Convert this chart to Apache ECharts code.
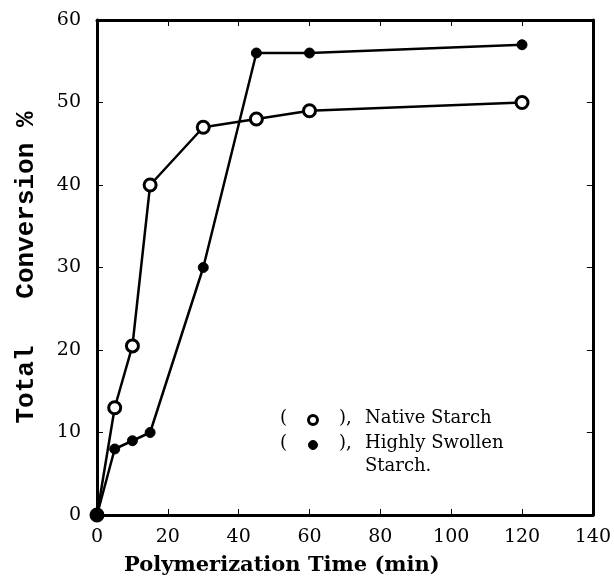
<!DOCTYPE html>
<html>
<head>
<meta charset="utf-8">
<script src="https://cdn.jsdelivr.net/npm/echarts@6/dist/echarts.min.js"></script>
<style>
  html, body { margin: 0; padding: 0; background: #fff; }
  #main { width: 614px; height: 581px; }
</style>
</head>
<body>
<div id="main"></div>
<script>
// values
const timeNative = [0, 5, 10, 15, 30, 45, 60, 120];
const native = [0, 13, 20.5, 40, 47, 48, 49, 50];
const timeSwollen = [0, 5, 10, 15, 30, 45, 60, 120];
const swollen = [0, 8, 9, 10, 30, 56, 56, 57];

window.addEventListener('load', function () {
    let chart = echarts.init(document.getElementById('main'));
    let serif = 'DejaVu Serif';
    let mono = 'Liberation Mono';

    let frameAxis = {
        axisLine: { show: true, onZero: false, lineStyle: { color: '#000', width: 3 } },
        axisTick: { show: true, inside: true, length: 6, lineStyle: { color: '#000', width: 1 } },
        splitLine: { show: false }
    };

    let option = {
        backgroundColor: '#fff',
        animation: false,
        grid: { left: 97, right: 18, top: 20, bottom: 64 },
        xAxis: [
            Object.assign({
                type: 'value', min: 0, max: 140, interval: 20, position: 'bottom',
                axisLabel: { margin: 13, color: '#000', fontFamily: serif, fontSize: 19 },
                name: 'Polymerization Time (min)',
                nameLocation: 'middle', nameGap: 40,
                nameTextStyle: { color: '#000', fontFamily: serif, fontWeight: 'bold', fontSize: 21, padding: [0, 126, 0, 0] }
            }, frameAxis),
            Object.assign({
                type: 'value', min: 0, max: 140, interval: 20, position: 'top',
                axisLabel: { show: false }
            }, frameAxis)
        ],
        yAxis: [
            Object.assign({
                type: 'value', min: 0, max: 60, interval: 10, position: 'left',
                axisLabel: { margin: 16, color: '#000', fontFamily: serif, fontSize: 19 },
                name: 'Total   Conversion %',
                nameLocation: 'middle', nameGap: 58, nameRotate: 90,
                nameTextStyle: { color: '#000', fontFamily: mono, fontWeight: 'bold', fontSize: 26 }
            }, frameAxis),
            Object.assign({
                type: 'value', min: 0, max: 60, interval: 10, position: 'right',
                axisLabel: { show: false }
            }, frameAxis)
        ],
        series: [
            {
                name: 'Native Starch',
                type: 'line',
                xAxisIndex: 0, yAxisIndex: 0,
                data: timeNative.map((t, i) => [t, native[i]]),
                symbol: 'circle', symbolSize: 12,
                lineStyle: { color: '#000', width: 2.5 },
                itemStyle: { color: '#fff', borderColor: '#000', borderWidth: 3 },
                z: 2
            },
            {
                name: 'Highly Swollen Starch.',
                type: 'line',
                xAxisIndex: 0, yAxisIndex: 0,
                data: timeSwollen.map((t, i) => [t, swollen[i]]),
                symbol: 'circle', symbolSize: 10,
                lineStyle: { color: '#000', width: 2.5 },
                itemStyle: { color: '#000', borderColor: '#000', borderWidth: 1 },
                z: 3
            }
        ],
        graphic: [
            { type: 'text', left: 280, top: 409, style: { text: '(', fontFamily: serif, fontSize: 18, fill: '#000' } },
            { type: 'circle', shape: { cx: 313, cy: 420, r: 4.5 }, style: { fill: '#fff', stroke: '#000', lineWidth: 3 } },
            { type: 'text', left: 339, top: 409, style: { text: '),', fontFamily: serif, fontSize: 18, fill: '#000' } },
            { type: 'text', left: 365, top: 409, style: { text: 'Native Starch', fontFamily: serif, fontSize: 18, fill: '#000' } },
            { type: 'text', left: 280, top: 434, style: { text: '(', fontFamily: serif, fontSize: 18, fill: '#000' } },
            { type: 'circle', shape: { cx: 313, cy: 445, r: 4.5 }, style: { fill: '#000', stroke: '#000', lineWidth: 1 } },
            { type: 'text', left: 339, top: 434, style: { text: '),', fontFamily: serif, fontSize: 18, fill: '#000' } },
            { type: 'text', left: 365, top: 434, style: { text: 'Highly Swollen', fontFamily: serif, fontSize: 18, fill: '#000' } },
            { type: 'text', left: 365, top: 457, style: { text: 'Starch.', fontFamily: serif, fontSize: 18, fill: '#000' } }
        ]
    };

    chart.setOption(option);
});
</script>
</body>
</html>
